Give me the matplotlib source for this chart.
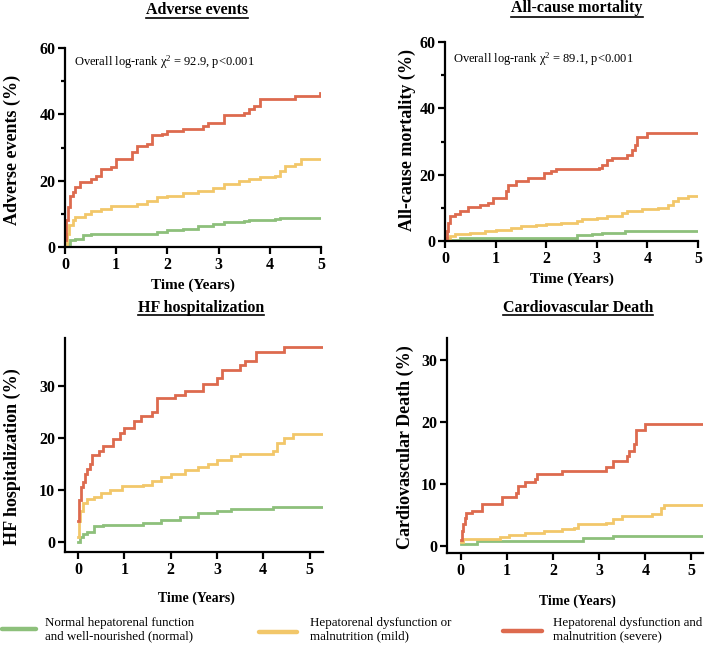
import matplotlib
matplotlib.use("Agg")
import matplotlib.pyplot as plt
from matplotlib.lines import Line2D

W, H = 709, 648

plt.rcParams['font.family'] = ['Liberation Serif', 'DejaVu Serif']
plt.rcParams['mathtext.fontset'] = 'custom'
plt.rcParams['mathtext.rm'] = 'Liberation Serif'
plt.rcParams['mathtext.it'] = 'Liberation Serif:italic'

GREEN = '#8dc07b'
YELLOW = '#f2c76a'
RED = '#dd6a4e'

group_labels = ["Normal hepatorenal function\nand well-nourished (normal)",
                "Hepatorenal dysfunction or\nmalnutrition (mild)",
                "Hepatorenal dysfunction and\nmalnutrition (severe)"]

# adverse events
ae_green_t = [0, 0.05, 0.1, 0.2, 0.35, 0.5, 1.4, 1.8, 2.0, 2.3, 2.6, 2.9, 3.1, 3.5, 3.6, 4.1, 4.2, 5.0]
ae_green_v = [0, 1, 2, 2.5, 3.5, 3.8, 4, 4.5, 5, 5.5, 6.2, 7, 7.5, 7.8, 8.2, 8.5, 8.8, 8.8]
ae_yellow_t = [0, 0.03, 0.08, 0.15, 0.2, 0.4, 0.5, 0.7, 0.9, 1.4, 1.6, 1.8, 2.0, 2.3, 2.6, 2.9, 3.1,
               3.4, 3.6, 3.8, 4.1, 4.2, 4.3, 4.5, 4.6, 5.0]
ae_yellow_v = [0, 4, 6.5, 8, 9, 10, 11, 11.5, 12.5, 13, 14, 15, 15.5, 16.3, 17, 17.8, 19,
               20, 20.5, 21, 21.5, 23, 24.5, 25, 26.4, 26.4]
ae_red_t = [0, 0.02, 0.05, 0.1, 0.15, 0.2, 0.3, 0.5, 0.6, 0.7, 0.9, 1.0, 1.2, 1.3, 1.4, 1.6, 1.7, 1.9,
            2.0, 2.3, 2.7, 2.8, 3.1, 3.5, 3.6, 3.7, 3.8, 4.5, 4.98, 5.0]
ae_red_v = [2, 8, 12, 15.5, 16.5, 18, 19.7, 20.5, 21.5, 23.5, 24, 26.5, 26.5, 28.5, 30.5, 31, 33.8, 34,
            35, 35.5, 36.5, 37.5, 39.8, 40.5, 41.5, 42.5, 44.5, 45.5, 46.5, 46.5]

# all-cause mortality
acm_green_t = [0, 0.3, 2.55, 2.6, 2.9, 3.1, 3.55, 5.0]
acm_green_v = [0.3, 1, 1, 1.7, 2.2, 2.5, 3, 3]
acm_yellow_t = [0, 0.1, 0.2, 0.5, 0.8, 1.0, 1.3, 1.5, 1.8, 2.0, 2.3, 2.6, 2.7, 3.0, 3.2, 3.5, 3.6,
                3.9, 4.2, 4.4, 4.5, 4.6, 4.8, 5.0]
acm_yellow_v = [0.8, 1.5, 2, 2.5, 3, 3.3, 3.8, 4.5, 4.8, 5, 5.5, 6, 6.5, 7, 7.5, 8.5, 9,
                9.5, 10, 11, 12, 13, 13.5, 13.5]
acm_red_t = [0, 0.03, 0.06, 0.1, 0.2, 0.3, 0.45, 0.7, 0.85, 0.95, 1.2, 1.25, 1.4, 1.65, 1.95, 2.1, 2.2,
             3.05, 3.1, 3.2, 3.3, 3.6, 3.7, 3.75, 3.8, 4.0, 5.0]
acm_red_v = [1, 3, 5.5, 7.5, 8, 9, 10.3, 11, 11.5, 13, 15, 16.8, 18, 19, 20.5, 21, 21.8,
             22, 23, 24.5, 25, 26, 27.5, 29, 31.5, 32.5, 32.5]

# HF hospitalization
hf_green_t = [0, 0.05, 0.1, 0.2, 0.35, 0.55, 1.4, 1.8, 2.2, 2.6, 3.0, 3.3, 4.2, 5.29]
hf_green_v = [0, 1, 1.5, 2, 3, 3.3, 3.6, 4.3, 4.8, 5.5, 6, 6.3, 6.8, 6.8]
hf_yellow_t = [0, 0.03, 0.05, 0.1, 0.2, 0.35, 0.5, 0.7, 0.95, 1.4, 1.6, 1.8, 2.0, 2.3, 2.6, 2.8,
               3.0, 3.3, 3.5, 4.2, 4.3, 4.45, 4.65, 5.29]
hf_yellow_v = [1, 4, 6, 7.5, 8.3, 8.6, 9.5, 10, 10.7, 11, 11.7, 12.5, 13, 13.8, 14.5, 15,
               15.7, 16.5, 17, 17.5, 19, 20, 20.8, 20.8]
hf_red_t = [0, 0.03, 0.06, 0.1, 0.15, 0.2, 0.25, 0.3, 0.45, 0.55, 0.75, 0.9, 1.0, 1.2, 1.35, 1.6, 1.7,
            2.1, 2.3, 2.7, 3.0, 3.1, 3.5, 3.6, 3.85, 4.45, 5.29]
hf_red_v = [4, 8, 10.5, 11.5, 13, 14, 15, 16.8, 17.5, 18.5, 19.8, 21, 22, 23.2, 24.3, 25, 27.6,
            28.3, 29, 30.3, 31.5, 33, 34, 34.8, 36.6, 37.5, 37.5]

# cardiovascular death
cvd_green_t = [0, 0.35, 2.65, 3.3, 5.25]
cvd_green_v = [0.3, 0.9, 1.3, 1.7, 1.7]
cvd_yellow_t = [0, 0.05, 0.85, 1.05, 1.4, 1.8, 2.2, 2.45, 2.55, 3.15, 3.3, 3.5, 4.15, 4.35, 4.4, 5.25]
cvd_yellow_v = [0.7, 1.2, 1.5, 1.8, 2.1, 2.4, 2.7, 3.0, 3.5, 3.8, 4.3, 4.8, 5.2, 6.2, 6.6, 6.6]
cvd_red_t = [0, 0.02, 0.05, 0.08, 0.12, 0.25, 0.45, 0.9, 1.2, 1.25, 1.4, 1.6, 1.65, 2.2, 3.15, 3.3,
             3.6, 3.65, 3.75, 3.8, 4.0, 5.25]
cvd_red_v = [1, 2.5, 3.5, 4.5, 5.3, 5.7, 6.8, 7.9, 8.5, 9.7, 10.3, 10.8, 11.6, 12.1, 12.8, 13.7,
             14.5, 15.3, 16.5, 18.7, 19.6, 19.6]


def fx(x):
    return x / W


def fy(y):
    return 1 - y / H


fig = plt.figure(figsize=(W / 100, H / 100), dpi=100)


def make_axes(x0, x1, ytop, ybot):
    return fig.add_axes([fx(x0), fy(ybot), (x1 - x0) / W, (ybot - ytop) / H])


def style(ax):
    for s in ['top', 'right']:
        ax.spines[s].set_visible(False)
    for s in ['left', 'bottom']:
        ax.spines[s].set_linewidth(1.6)
    ax.tick_params(which='major', length=5, width=1.6, labelsize=11.5, pad=2)
    ax.tick_params(which='minor', length=3, width=1.6)
    for lab in ax.get_xticklabels() + ax.get_yticklabels():
        lab.set_fontweight('bold')


def draw(ax, series):
    for t, v, c in series:
        ax.step(t, v, where='post', color=c, lw=2.0, solid_joinstyle='miter')


def title(text, xc, yc, uy):
    t = fig.text(fx(xc), fy(yc), text, ha='center', va='center', fontsize=11.5, fontweight='bold')
    fig.canvas.draw()
    bb = t.get_window_extent()
    fig.add_artist(Line2D([bb.x0 / W, bb.x1 / W], [fy(uy), fy(uy)], color='black', lw=1.2))


# panel 1
ax1 = make_axes(65, 321, 48, 247)
draw(ax1, [(ae_green_t, ae_green_v, GREEN), (ae_yellow_t, ae_yellow_v, YELLOW), (ae_red_t, ae_red_v, RED)])
ax1.set_xlim(0, 5)
ax1.set_ylim(0, 60)
ax1.set_xticks(range(6))
ax1.set_yticks([0, 20, 40, 60])
ax1.set_yticks([10, 30, 50], minor=True)
style(ax1)
ax1.text(0.18, 55.8, 'Overall log-rank \u03c7$^2$ = 92.9, p<0.001', fontsize=9, va='center')

# panel 2
ax2 = make_axes(445, 698, 42, 241)
draw(ax2, [(acm_green_t, acm_green_v, GREEN), (acm_yellow_t, acm_yellow_v, YELLOW), (acm_red_t, acm_red_v, RED)])
ax2.set_xlim(0, 5)
ax2.set_ylim(0, 60)
ax2.set_xticks(range(6))
ax2.set_yticks([0, 20, 40, 60])
ax2.set_yticks([10, 30, 50], minor=True)
style(ax2)
ax2.text(0.16, 54.9, 'Overall log-rank \u03c7$^2$ = 89.1, p<0.001', fontsize=9, va='center')

# panel 3
ax3 = make_axes(65, 323, 338, 552)
draw(ax3, [(hf_green_t, hf_green_v, GREEN), (hf_yellow_t, hf_yellow_v, YELLOW), (hf_red_t, hf_red_v, RED)])
ax3.set_xlim(-0.28, 5.29)
ax3.set_ylim(-1.9, 39.2)
ax3.set_xticks(range(6))
ax3.set_yticks([0, 10, 20, 30])
style(ax3)

# panel 4
ax4 = make_axes(447, 703, 338, 553)
draw(ax4, [(cvd_green_t, cvd_green_v, GREEN), (cvd_yellow_t, cvd_yellow_v, YELLOW), (cvd_red_t, cvd_red_v, RED)])
ax4.set_xlim(-0.3, 5.25)
ax4.set_ylim(-1.1, 33.5)
ax4.set_xticks(range(6))
ax4.set_yticks([0, 10, 20, 30])
style(ax4)

# axis labels
for xc, yc, fs in [(193, 285, 11), (572, 279, 11), (196, 598, 10), (577, 601, 10)]:
    fig.text(fx(xc), fy(yc), 'Time (Years)', ha='center', va='center', fontsize=fs, fontweight='bold')
for txt, xc, yc in [('Adverse events (%)', 12, 150), ('All-cause mortality (%)', 407, 140),
                    ('HF hospitalization (%)', 12, 457), ('Cardiovascular Death (%)', 405, 447)]:
    fig.text(fx(xc), fy(yc), txt, ha='center', va='center', rotation=90, fontsize=13, fontweight='bold')

# titles
title('Adverse events', 197, 10, 18)
title('All-cause mortality', 577, 8, 17)
title('HF hospitalization', 201, 308, 315)
title('Cardiovascular Death', 578, 308, 315)

# legend
for (x0, x1, ly, tx), c, lab in zip([(2, 36, 629, 45), (259, 297, 632, 310), (503, 542, 631, 553)],
                                    [GREEN, YELLOW, RED], group_labels):
    fig.add_artist(Line2D([fx(x0), fx(x1)], [fy(ly), fy(ly)], color=c, lw=3.2, solid_capstyle='round'))
    fig.text(fx(tx), fy(630), lab, ha='left', va='center', fontsize=9.4, linespacing=1.15)

fig.savefig('out.png', dpi=100)
